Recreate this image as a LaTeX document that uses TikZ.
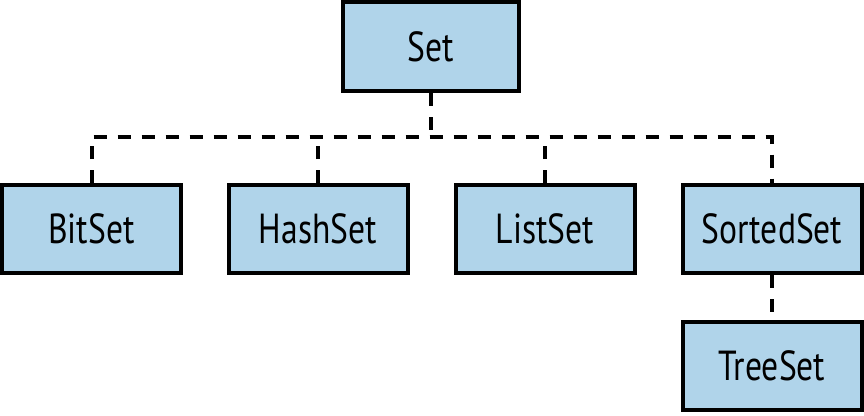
\documentclass[tikz,border=0pt]{standalone}
\usepackage{fontspec}
\setmainfont{PT Sans}[FakeStretch=0.8]
\begin{document}
\begin{tikzpicture}[x=1pt,y=-1pt,
  cls/.style={draw=black, line width=4pt, fill={rgb,255:red,176;green,212;blue,234},
    minimum width=179pt, minimum height=88pt, inner sep=0pt,
    font=\fontsize{42}{46}\selectfont},
  conn/.style={draw=black, line width=4pt, dash pattern=on 13pt off 11pt}]
  \useasboundingbox (0,0) rectangle (864,415);
  \node[cls, minimum width=176pt, minimum height=89pt] (set) at (431,46.5) {Set};
  \node[cls] (bitset) at (91.5,229) {BitSet};
  \node[cls] (hashset) at (318,229) {HashSet};
  \node[cls] (listset) at (545,229) {ListSet};
  \node[cls] (sortedset) at (772,229) {SortedSet};
  \node[cls] (treeset) at (772,366) {TreeSet};
  \coordinate (bus) at (0,137);
  % dashed tree connectors
  \draw[conn] (set.south) -- (set.south |- bus);
  \draw[conn] (bitset.north) -- (bitset.north |- bus) -- (sortedset.north |- bus) -- (sortedset.north);
  \draw[conn] (hashset.north) -- (hashset.north |- bus);
  \draw[conn] (listset.north) -- (listset.north |- bus);
  \draw[conn] (sortedset.south) -- (treeset.north);
\end{tikzpicture}
\end{document}
